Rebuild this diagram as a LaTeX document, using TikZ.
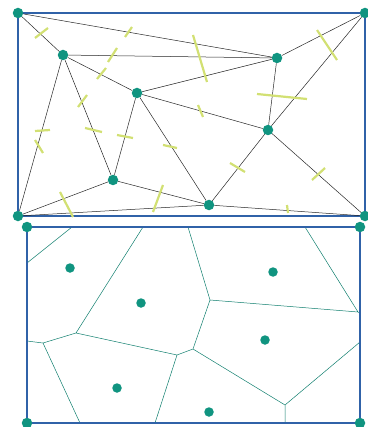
\documentclass[tikz,border=0pt]{standalone}
\usetikzlibrary{positioning}
\definecolor{siteteal}{RGB}{16,148,128}
\definecolor{frameblue}{RGB}{48,98,168}
\definecolor{tickgreen}{RGB}{210,224,115}

\begin{document}
\begin{tikzpicture}
  [x=1pt,y=-1pt,
  site/.style={circle,fill=siteteal,inner sep=0pt,minimum size=10.5pt},
  delaunay/.style={black!85,line width=0.5pt},
  bisector/.style={tickgreen,line width=2.2pt},
  cell/.style={siteteal!85!black,line width=0.5pt},
  frame/.style={frameblue,line width=2.2pt}]
  \useasboundingbox (0,0) rectangle (367,427);

  % triangulation
  \node[site] (tl) at (18,13) {};
  \node[site] (tr) at (365,13) {};
  \node[site] (bl) at (18,216) {};
  \node[site] (br) at (365,216) {};
  \node[site] (a) at (63,55) {};
  \node[site] (b) at (137,93) {};
  \node[site] (c) at (277,58) {};
  \node[site] (d) at (268,130) {};
  \node[site] (e) at (113,180) {};
  \node[site] (f) at (209,205) {};
  \draw[frame] (tl) -- (tr) -- (br) -- (bl) -- (tl);
  \draw[delaunay] (tl) -- (a) (tl) -- (c) (a) -- (c) (a) -- (b) (b) -- (c)
    (b) -- (d) (c) -- (tr) (c) -- (d) (d) -- (tr) (d) -- (br) (d) -- (f)
    (f) -- (br) (e) -- (f) (b) -- (e) (b) -- (f) (a) -- (e) (a) -- (bl)
    (e) -- (bl) (bl) -- (f);
  \foreach \xa/\ya/\xb/\yb in {35/38/48/28, 125/37/132/27, 108/62/117/48,
      97/79/106/68, 78/107/87/95, 193/35/207/82, 317/30/337/60,
      257/94/307/99, 198/105/203/117, 35/131/50/130,
      35/140/43/153, 85/128/102/132, 117/135/133/138,
      163/145/177/148, 60/192/73/217, 163/185/153/212,
      230/163/245/172, 312/180/325/168, 287/205/288/213}
    \draw[bisector] (\xa,\ya) -- (\xb,\yb);

  % voronoi
  \node[site] (tl2) at (27,227) {};
  \node[site] (tr2) at (360,227) {};
  \node[site] (bl2) at (27,423) {};
  \node[site] (br2) at (360,423) {};
  \node[site,minimum size=9.5pt] (a2) at (70,268) {};
  \node[site,minimum size=9.5pt] (b2) at (141,303) {};
  \node[site,minimum size=9.5pt] (c2) at (273,272) {};
  \node[site,minimum size=9.5pt] (d2) at (265,340) {};
  \node[site,minimum size=9.5pt] (e2) at (117,388) {};
  \node[site,minimum size=9.5pt] (f2) at (209,412) {};
  \coordinate (v1) at (43,343);
  \coordinate (v2) at (76,333);
  \coordinate (v3) at (177,355);
  \coordinate (v4) at (193,349);
  \coordinate (v5) at (285,405);
  \coordinate (v6) at (210,300);
  \coordinate (v7) at (358,312);
  \coordinate (p1) at (27,263);
  \coordinate (p2) at (72,227);
  \coordinate (p3) at (143,227);
  \coordinate (p4) at (188,227);
  \coordinate (p5) at (305,227);
  \coordinate (p6) at (27,341);
  \coordinate (p7) at (80,423);
  \coordinate (p8) at (155,423);
  \coordinate (p9) at (285,423);
  \coordinate (p10) at (360,342);
  \coordinate (p11) at (360,313);
  \draw[cell] (p1) -- (p2) (p3) -- (v2) -- (v1) -- (p6) (v1) -- (p7)
    (v2) -- (v3) -- (p8) (v3) -- (v4) -- (v6) -- (p4) (v6) -- (v7) -- (p5)
    (v7) -- (p11) (v4) -- (v5) -- (p9) (v5) -- (p10);
  \draw[frame,line width=2.6pt] (tl2) -- (tr2) -- (br2) -- (bl2) -- (tl2);
\end{tikzpicture}
\end{document}
